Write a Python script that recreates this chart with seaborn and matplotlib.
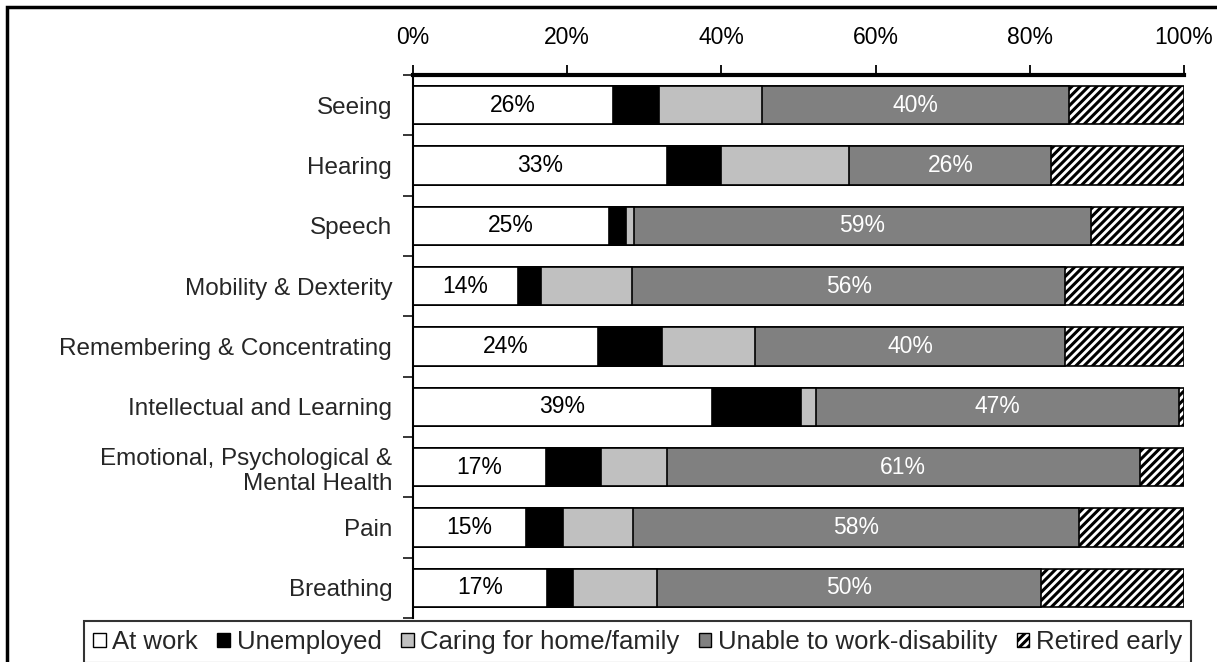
import numpy as np
import pandas as pd
import seaborn as sns
import matplotlib.pyplot as plt
from matplotlib.patches import Patch, Rectangle

categories = ["Seeing", "Hearing", "Speech", "Mobility & Dexterity",
              "Remembering & Concentrating", "Intellectual and Learning",
              "Emotional, Psychological &\nMental Health", "Pain", "Breathing"]
series = ["At work", "Unemployed", "Caring for home/family",
          "Unable to work-disability", "Retired early"]
at_work = [26.0, 32.9, 25.4, 13.6, 24.0, 38.8, 17.2, 14.7, 17.4]
unemployed = [5.9, 7.1, 2.2, 3.0, 8.3, 11.5, 7.2, 4.7, 3.3]
caring = [13.4, 16.6, 1.0, 11.8, 12.1, 2.0, 8.5, 9.1, 11.0]
unable = [39.8, 26.2, 59.4, 56.2, 40.2, 47.0, 61.4, 57.9, 49.7]
retired = [14.9, 17.2, 12.0, 15.4, 15.4, 0.7, 5.7, 13.6, 18.6]
xticks = [0, 20, 40, 60, 80, 100]

colors = ["white", "black", "#c0c0c0", "#808080", "white"]
hatches = [None, None, None, None, "////"]

df = pd.DataFrame({"cat": categories, "At work": at_work, "Unemployed": unemployed,
                   "Caring for home/family": caring, "Unable to work-disability": unable,
                   "Retired early": retired})
cum = df[series].cumsum(axis=1)

sns.set_style("white")
plt.rcParams["font.family"] = ["Liberation Sans", "DejaVu Sans"]
plt.rcParams["hatch.linewidth"] = 2.2

fig = plt.figure(figsize=(12.17, 6.62), dpi=100)
ax = fig.add_axes([413 / 1217, 1 - 618 / 662, 771 / 1217, 543 / 662])

# draw the cumulative layers from the longest to the shortest so they stack
for s, c, h in reversed(list(zip(series, colors, hatches))):
    sns.barplot(x=cum[s], y=df["cat"], orient="h", color=c, saturation=1,
                edgecolor="black", linewidth=1.2, width=0.63, errorbar=None,
                hatch=h, ax=ax)

# labels for "At work" and "Unable to work-disability"
for i in range(len(categories)):
    ax.text(at_work[i] / 2, i, f"{at_work[i]:.0f}%", ha="center", va="center",
            fontsize=16.5, color="black")
    mid = cum["Unable to work-disability"][i] - unable[i] / 2
    ax.text(mid, i, f"{unable[i]:.0f}%", ha="center", va="center",
            fontsize=16.5, color="white")

ax.set_xlim(0, 100)
ax.set_ylim(len(categories) - 0.5, -0.5)
ax.set_xticks(xticks)
ax.set_xticklabels([f"{t}%" for t in xticks], fontsize=16.5)
ax.xaxis.tick_top()
ax.tick_params(axis="x", top=True, bottom=False, direction="out", length=7,
               width=1.3, pad=12, colors="black")
ax.tick_params(axis="y", which="major", length=0, pad=15, labelsize=17.5)
ax.set_yticks(np.arange(-0.5, len(categories), 1), minor=True)
ax.tick_params(axis="y", which="minor", left=True, length=7, width=1.3,
               direction="out")
ax.set_xlabel("")
ax.set_ylabel("")
for side in ["right", "bottom"]:
    ax.spines[side].set_visible(False)
ax.spines["top"].set_linewidth(3)
ax.spines["left"].set_linewidth(1.5)
ax.spines["top"].set_color("black")
ax.spines["left"].set_color("black")

handles = [Patch(facecolor=c, edgecolor="black", hatch=h, linewidth=1)
           for c, h in zip(colors, hatches)]
leg = fig.legend(handles, series, loc="upper center", ncol=5,
                 bbox_to_anchor=(637.5 / 1217, 1 - 621 / 662), fontsize=18.5,
                 frameon=True, fancybox=False, edgecolor="black",
                 handlelength=0.5, handleheight=0.5, handletextpad=0.25,
                 columnspacing=0.75, borderpad=0.35, borderaxespad=0)
leg.get_frame().set_linewidth(1.5)

fig.patches.append(Rectangle((7 / 1217, -0.1), 1.2, 1.1 - 7 / 662,
                             transform=fig.transFigure, fill=False,
                             edgecolor="black", linewidth=2.5))

fig.savefig("out.png", dpi=100)
